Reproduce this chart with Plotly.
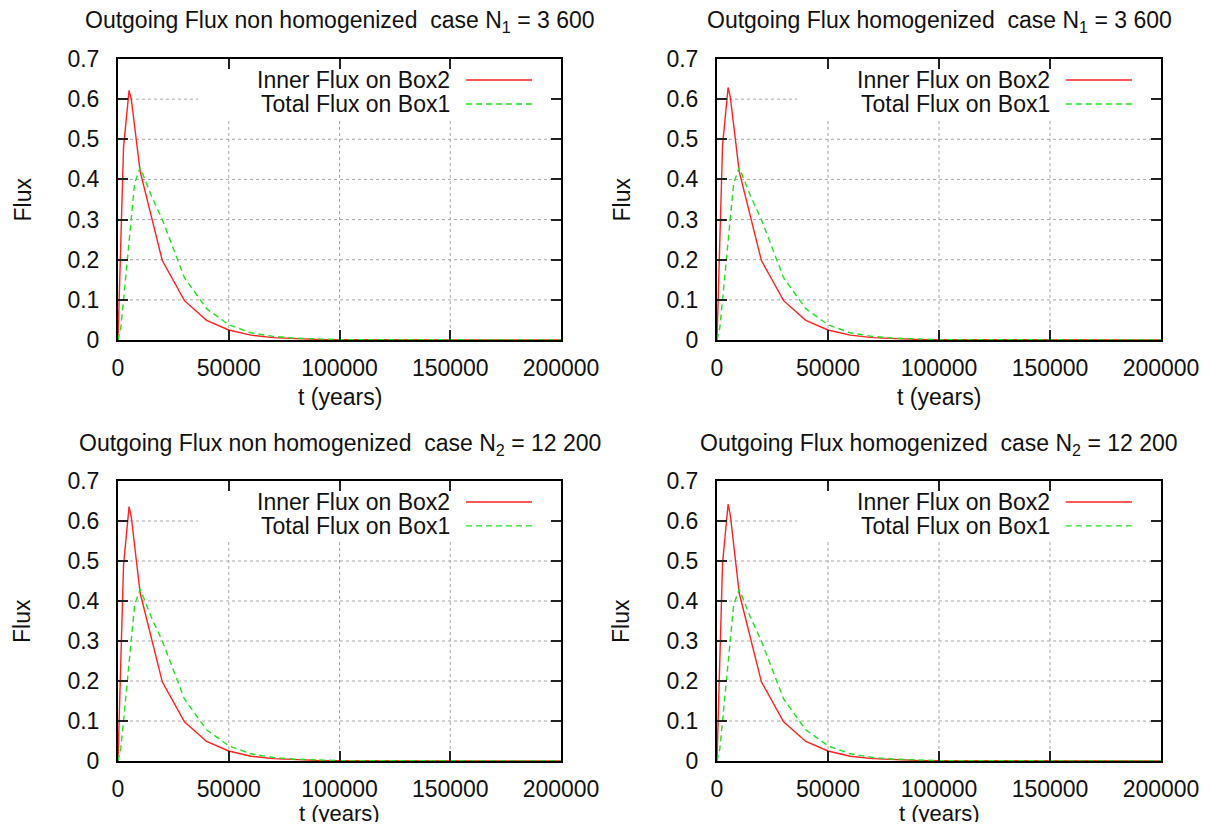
import plotly.graph_objects as go

# ---------------- data ----------------
t_inner = [0, 2500, 5000, 6000, 10000, 20000, 30000, 40000, 50000, 60000,
           70000, 80000, 90000, 100000, 200000]
inner_n1_nonhom = [0, 0.48, 0.622, 0.600, 0.42, 0.198, 0.098, 0.049, 0.025, 0.012,
                   0.006, 0.003, 0.0015, 0.0007, 0]
inner_n1_hom = [0, 0.485, 0.629, 0.605, 0.42, 0.198, 0.098, 0.049, 0.025, 0.012,
                0.006, 0.003, 0.0015, 0.0007, 0]
inner_n2_nonhom = [0, 0.49, 0.636, 0.610, 0.42, 0.198, 0.098, 0.049, 0.025, 0.012,
                   0.006, 0.003, 0.0015, 0.0007, 0]
inner_n2_hom = [0, 0.495, 0.642, 0.615, 0.42, 0.198, 0.098, 0.049, 0.025, 0.012,
                0.006, 0.003, 0.0015, 0.0007, 0]

t_total = [0, 1250, 2500, 5000, 7500, 10000, 15000, 20000, 30000, 40000, 50000,
           60000, 70000, 80000, 90000, 100000, 200000]
total_n1_nonhom = [0, 0.03, 0.10, 0.25, 0.39, 0.43, 0.36, 0.30, 0.155, 0.078, 0.038,
                   0.018, 0.009, 0.0045, 0.002, 0.001, 0]
total_n1_hom = [0, 0.03, 0.10, 0.25, 0.39, 0.43, 0.36, 0.30, 0.155, 0.078, 0.038,
                0.018, 0.009, 0.0045, 0.002, 0.001, 0]
total_n2_nonhom = [0, 0.03, 0.10, 0.25, 0.39, 0.43, 0.36, 0.30, 0.155, 0.078, 0.038,
                   0.018, 0.009, 0.0045, 0.002, 0.001, 0]
total_n2_hom = [0, 0.03, 0.10, 0.25, 0.39, 0.43, 0.36, 0.30, 0.155, 0.078, 0.038,
                0.018, 0.009, 0.0045, 0.002, 0.001, 0]

titles = [
    "Outgoing Flux non homogenized\u00a0 case N<sub>1</sub> = 3 600",
    "Outgoing Flux homogenized\u00a0 case N<sub>1</sub> = 3 600",
    "Outgoing Flux non homogenized\u00a0 case N<sub>2</sub> = 12 200",
    "Outgoing Flux homogenized\u00a0 case N<sub>2</sub> = 12 200",
]
inner_series = [inner_n1_nonhom, inner_n1_hom, inner_n2_nonhom, inner_n2_hom]
total_series = [total_n1_nonhom, total_n1_hom, total_n2_nonhom, total_n2_hom]
legend_names = ["Inner Flux on Box2", "Total Flux on Box1"]
x_ticks = [0, 50000, 100000, 150000, 200000]
y_ticks = [0, 0.1, 0.2, 0.3, 0.4, 0.5, 0.6, 0.7]
x_label = "t (years)"
y_label = "Flux"

# ---------------- layout geometry (screen px) ----------------
W, H, OFF = 1195, 814, 8
FONT = "Liberation Sans, Arial, sans-serif"
FS = 23
RED = "#ff2020"
GREEN = "#20e020"
GRID = "#a8a8a8"

panels = [(118, 561, 59, 340), (717, 1161, 59, 340),
          (118, 561, 481, 761), (717, 1161, 481, 761)]
xtitle_gap = [57, 57, 52, 52]
xtitle_size = [23, 23, 22, 22]

# legend box (relative to panel, in domain fraction)
LEG_X0 = (198 - 118) / 443
LEG_Y0 = (340 - 118) / 281


def px(x):
    return (x - OFF) / W


def py(y):
    return 1 - (y - OFF) / H


fig = go.Figure()
annotations = []
shapes = []
layout_axes = {}
tfont = dict(family=FONT, size=FS, color="#111")

for i, (x0, x1, y0, y1) in enumerate(panels):
    n = "" if i == 0 else str(i + 1)
    xa, ya = "x" + n, "y" + n
    fig.add_trace(go.Scatter(x=t_inner, y=inner_series[i], mode="lines",
                             line=dict(color=RED, width=1.4),
                             xaxis=xa, yaxis=ya, showlegend=False,
                             name=legend_names[0]))
    fig.add_trace(go.Scatter(x=t_total, y=total_series[i], mode="lines",
                             line=dict(color=GREEN, width=1.4, dash="6px,4px"),
                             xaxis=xa, yaxis=ya, showlegend=False,
                             name=legend_names[1]))
    common = dict(showline=True, linecolor="black", linewidth=2, mirror="ticks",
                  ticks="inside", ticklen=10, tickwidth=2, tickcolor="#222",
                  showgrid=False, zeroline=False, tickfont=tfont,
                  fixedrange=True, automargin=False)
    layout_axes["xaxis" + n] = dict(common, domain=[px(x0), px(x1)], anchor=ya,
                                    range=[0, 200000], tickvals=x_ticks,
                                    tickformat="d", ticklabelstandoff=6)
    layout_axes["yaxis" + n] = dict(common, domain=[py(y1), py(y0)], anchor=xa,
                                    range=[0, 0.7], tickvals=y_ticks,
                                    ticklabelstandoff=12)
    # dotted grid (hidden behind the gnuplot-style key box)
    for yv in y_ticks[1:-1]:
        top_clip = yv / 0.7 > LEG_Y0
        shapes.append(dict(type="line", xref=xa + " domain", yref=ya,
                           x0=0, x1=(LEG_X0 if top_clip else 1), y0=yv, y1=yv,
                           line=dict(color=GRID, width=1, dash="dot"), layer="below"))
    for xv in x_ticks[1:-1]:
        shapes.append(dict(type="line", xref=xa, yref=ya + " domain",
                           x0=xv, x1=xv, y0=0, y1=LEG_Y0,
                           line=dict(color=GRID, width=1, dash="dot"), layer="below"))
    cx = (x0 + x1) / 2
    # title
    annotations.append(dict(text=titles[i], x=px(cx), y=py(y0 - 37), xref="paper",
                            yref="paper", showarrow=False, xanchor="center",
                            yanchor="middle", font=tfont))
    # axis titles
    annotations.append(dict(text=x_label, x=px(cx), y=py(y1 + xtitle_gap[i]),
                            xref="paper", yref="paper", showarrow=False,
                            xanchor="center", yanchor="middle",
                            font=dict(tfont, size=xtitle_size[i])))
    annotations.append(dict(text=y_label, x=px(x0 - 96), y=py((y0 + y1) / 2),
                            xref="paper", yref="paper", showarrow=False,
                            textangle=-90, xanchor="center", yanchor="middle",
                            font=tfont))
    # key (gnuplot style: text then sample line)
    for k, (ly, col, dash) in enumerate([(80, RED, "solid"), (104, GREEN, "6px,4px")]):
        yy = (340 - ly) / 281
        annotations.append(dict(text=legend_names[k], xref=xa + " domain",
                                yref=ya + " domain", x=(452 - 118) / 443, y=yy,
                                showarrow=False, xanchor="right", yanchor="middle",
                                font=tfont))
        shapes.append(dict(type="line", xref=xa + " domain", yref=ya + " domain",
                           x0=(466 - 118) / 443, x1=(532 - 118) / 443, y0=yy, y1=yy,
                           line=dict(color=col, width=1.4, dash=dash)))

fig.update_layout(width=W, height=H, autosize=False,
                  margin=dict(l=0, r=0, t=0, b=0, autoexpand=False),
                  paper_bgcolor="white", plot_bgcolor="white",
                  annotations=annotations, shapes=shapes,
                  showlegend=False, **layout_axes)

fig.write_html("out.html")
